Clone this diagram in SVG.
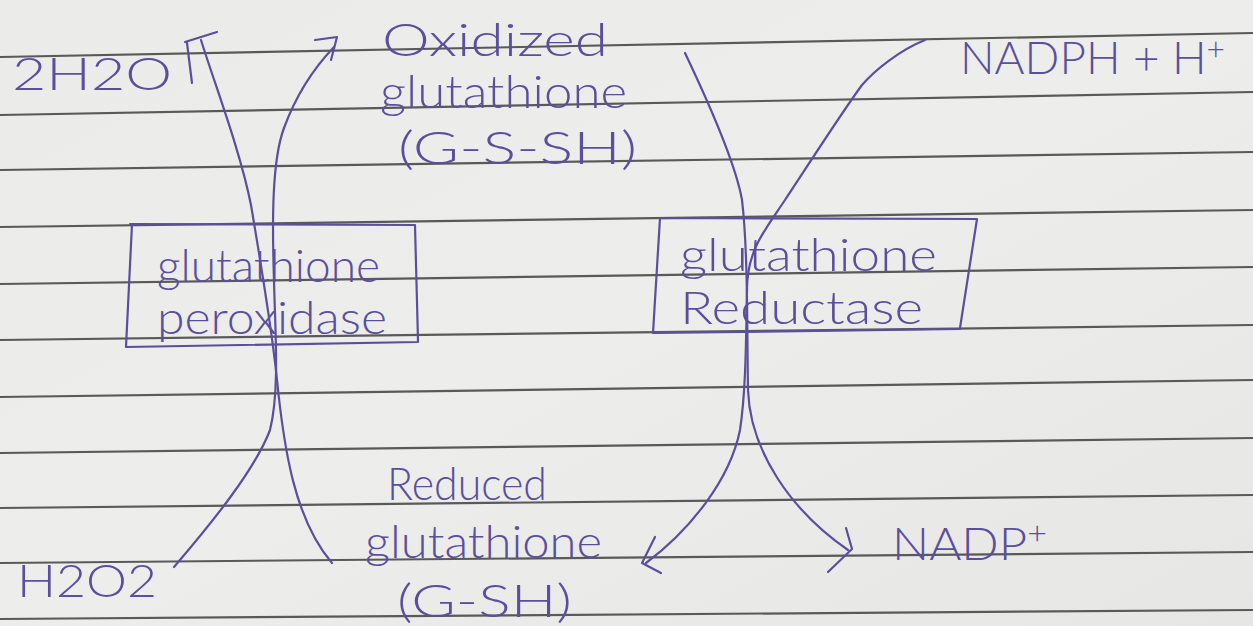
<svg xmlns="http://www.w3.org/2000/svg" width="1253" height="626" viewBox="0 0 1253 626">
<style>
.rule{stroke:#595959;stroke-width:2.2;fill:none}
.ink{stroke:#5a4f9c;stroke-width:2.2;fill:none;stroke-linecap:round;stroke-linejoin:round}
.t{font-family:"Lato","Open Sans","Liberation Sans",sans-serif;font-weight:300;fill:#5a4f9c;font-size:46px}
</style>
<defs>
<linearGradient id="paper" x1="0" y1="0" x2="1" y2="1">
<stop offset="0" stop-color="#ebebe9"/>
<stop offset="0.5" stop-color="#ededeb"/>
<stop offset="1" stop-color="#e6e6e4"/>
</linearGradient>
</defs>
<rect width="1253" height="626" fill="url(#paper)"/>
<g id="paper-lines">
<path class="rule" d="M0,57 L1253,33"/>
<path class="rule" d="M0,115 L1253,92"/>
<path class="rule" d="M0,170 L1253,152"/>
<path class="rule" d="M0,227 L1253,210"/>
<path class="rule" d="M0,284 L1253,267"/>
<path class="rule" d="M0,340 L1253,325"/>
<path class="rule" d="M0,397 L1253,380"/>
<path class="rule" d="M0,453 L1253,438"/>
<path class="rule" d="M0,508 L1253,495"/>
<path class="rule" d="M0,563 L1253,552"/>
<path class="rule" d="M0,619 L1253,610"/>
</g>
<g id="connectors">
<path class="ink" d="M201,40 C215,85 240,150 251,205 C262,270 272,330 277,380 C284,450 295,520 332,563"/>
<path class="ink" d="M185,42 L217,32 M187,43 L192,83"/>
<path class="ink" d="M174,567 C210,525 255,470 270,430 C280,390 275,330 274,280 C272,220 272,160 284,128 C295,98 312,70 334,47"/>
<path class="ink" d="M315,40 L337,37 L331,60"/>
<path class="ink" d="M685,53 C705,95 735,160 742,200 C748,250 747,330 748,390 C750,450 790,510 848,550"/>
<path class="ink" d="M846,528 L852,549 L828,572"/>
<path class="ink" d="M925,40 C900,50 875,70 862,85 C840,115 805,170 785,200 C765,230 747,250 747,290 C746,340 746,390 740,430 C730,480 690,530 646,563"/>
<path class="ink" d="M655,537 L642,563 L661,573"/>
</g>
<g id="water">
<text class="t" x="12" y="90" font-size="60" textLength="160" lengthAdjust="spacingAndGlyphs">2H2O</text>
</g>
<g id="oxidized-glutathione">
<text class="t" x="382" y="56" font-size="44" textLength="226" lengthAdjust="spacingAndGlyphs">Oxidized</text>
<text class="t" x="380" y="108" font-size="42" textLength="247" lengthAdjust="spacingAndGlyphs">glutathione</text>
<text class="t" x="398" y="164" font-size="44" textLength="239" lengthAdjust="spacingAndGlyphs">(G-S-SH)</text>
</g>
<g id="nadph">
<text class="t" x="960" y="74" font-size="50" textLength="265" lengthAdjust="spacingAndGlyphs">NADPH + H<tspan dy="-14" font-size="32">+</tspan></text>
</g>
<g id="glutathione-peroxidase">
<path class="ink" d="M130,224 L415,225 L418,341 M132,224 L126,347 L418,342"/>
<text class="t" x="157" y="282" font-size="44" textLength="223" lengthAdjust="spacingAndGlyphs">glutathione</text>
<text class="t" x="157" y="334" font-size="44" textLength="230" lengthAdjust="spacingAndGlyphs">peroxidase</text>
</g>
<g id="glutathione-reductase">
<path class="ink" d="M660,218 L977,219 L960,328 M660,218 L653,333 L960,329"/>
<text class="t" x="680" y="271" font-size="44" textLength="257" lengthAdjust="spacingAndGlyphs">glutathione</text>
<text class="t" x="680" y="324" font-size="44" textLength="243" lengthAdjust="spacingAndGlyphs">Reductase</text>
</g>
<g id="reduced-glutathione">
<text class="t" x="387" y="500" font-size="46" textLength="160" lengthAdjust="spacingAndGlyphs">Reduced</text>
<text class="t" x="365" y="558" font-size="44" textLength="237" lengthAdjust="spacingAndGlyphs">glutathione</text>
<text class="t" x="397" y="617" font-size="44" textLength="175" lengthAdjust="spacingAndGlyphs">(G-SH)</text>
</g>
<g id="hydrogen-peroxide">
<text class="t" x="17" y="597" font-size="56" textLength="140" lengthAdjust="spacingAndGlyphs">H2O2</text>
</g>
<g id="nadp">
<text class="t" x="892" y="560" font-size="44" textLength="155" lengthAdjust="spacingAndGlyphs">NADP<tspan dy="-16" font-size="32">+</tspan></text>
</g>
</svg>
